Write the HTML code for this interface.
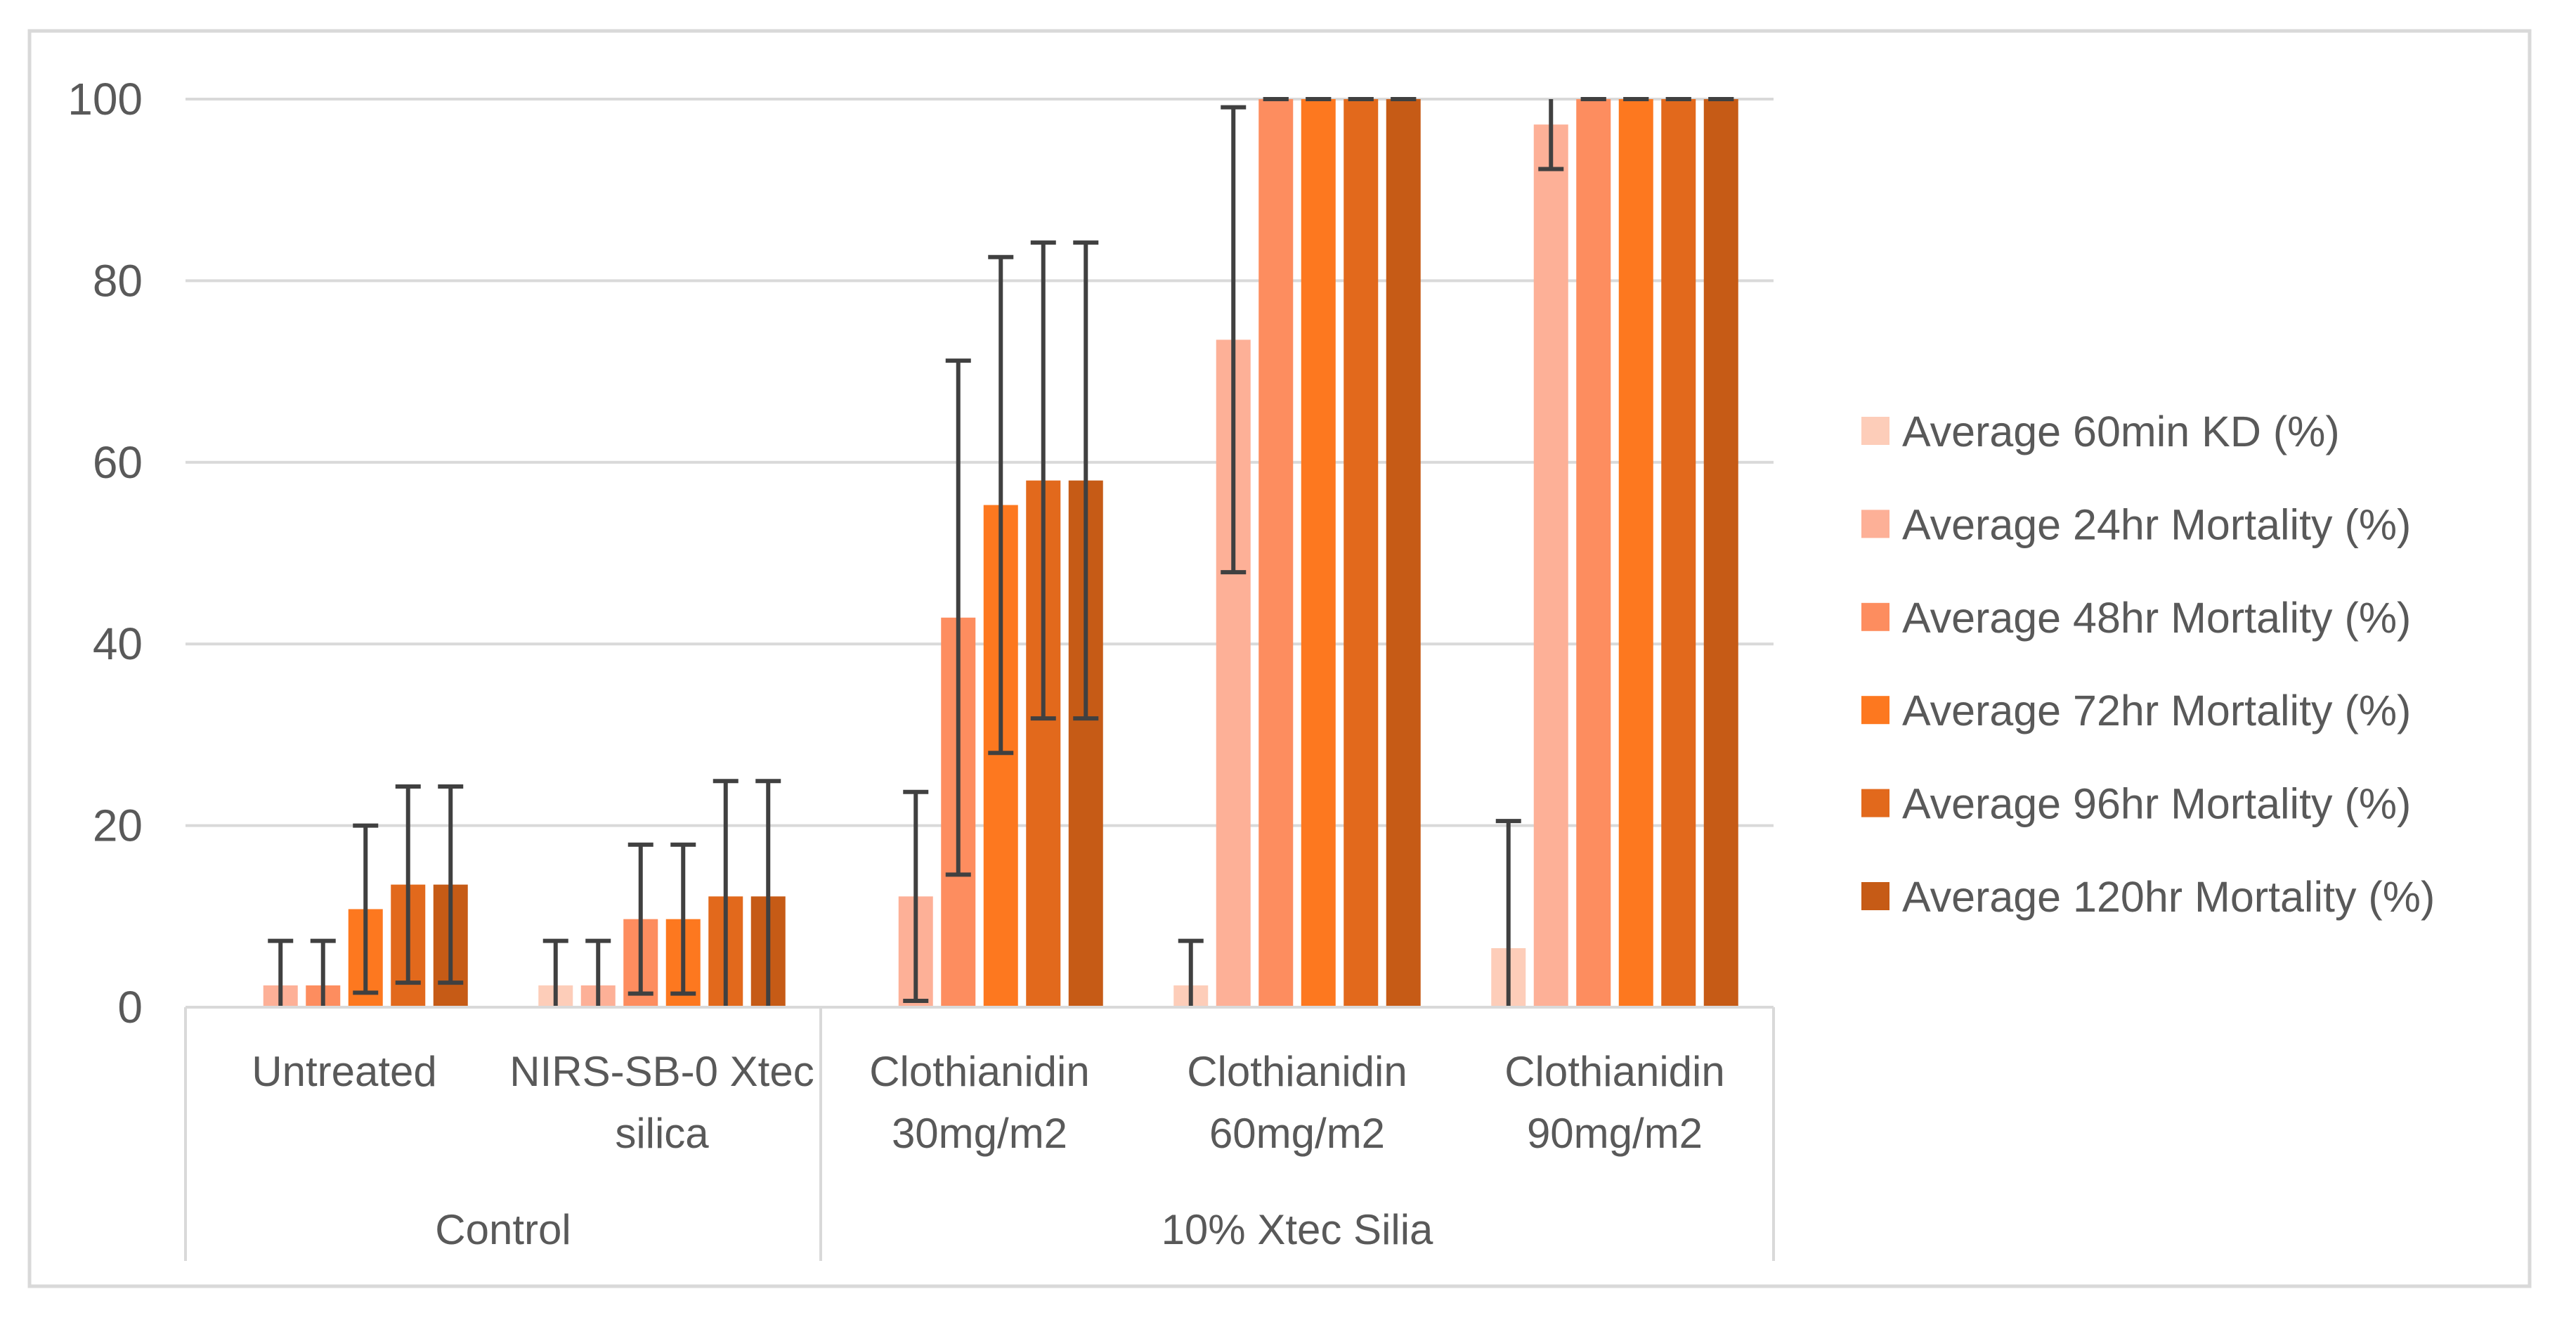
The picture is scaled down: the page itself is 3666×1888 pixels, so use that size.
<!DOCTYPE html>
<html><head><meta charset="utf-8"><style>
html,body{margin:0;padding:0;background:#fff;}
svg{display:block;font-family:"Liberation Sans",sans-serif;}
</style></head><body>
<svg id="chart" width="3666" height="1888" viewBox="0 0 3666 1888" xmlns="http://www.w3.org/2000/svg">
<rect x="42" y="44" width="3558" height="1786" fill="#fff" stroke="#d9d9d9" stroke-width="5"/>
<g id="grid"></g>
<g id="yticks"></g>
<g id="bars"></g>
<g id="errs"></g>
<g id="xaxis"></g>
<g id="legend"></g>
</svg>
<script>
const categories = ["Untreated","NIRS-SB-0 Xtec|silica","Clothianidin|30mg/m2","Clothianidin|60mg/m2","Clothianidin|90mg/m2"];
const groups = ["Control","10% Xtec Silia"];
const groupSpans = [2,3];
const seriesNames = ["Average 60min KD (%)","Average 24hr Mortality (%)","Average 48hr Mortality (%)","Average 72hr Mortality (%)","Average 96hr Mortality (%)","Average 120hr Mortality (%)"];
const seriesColors = ["#FDCDB9","#FDB097","#FD8D5F","#FD781F","#E2691C","#C65B16"];
const kd60 = [0, 2.4, 0, 2.4, 6.5];
const m24 = [2.4, 2.4, 12.2, 73.5, 97.2];
const m48 = [2.4, 9.7, 42.9, 100, 100];
const m72 = [10.8, 9.7, 55.3, 100, 100];
const m96 = [13.5, 12.2, 58, 100, 100];
const m120 = [13.5, 12.2, 58, 100, 100];
const err60 = [0, 4.9, 0, 4.9, 14];
const err24 = [4.9, 4.9, 11.5, 25.6, 4.9];
const err48 = [4.9, 8.2, 28.3, 0, 0];
const err72 = [9.2, 8.2, 27.3, 0, 0];
const err96 = [10.8, 12.7, 26.2, 0, 0];
const err120 = [10.8, 12.7, 26.2, 0, 0];
const yTicks = [0,20,40,60,80,100];

const series = [kd60,m24,m48,m72,m96,m120];
const errs = [err60,err24,err48,err72,err96,err120];
const NS="http://www.w3.org/2000/svg";
const X0=264, X1=2524, Y0=1433, Y1=141, YMAX=100;
const catW=(X1-X0)/categories.length;
const pitch=60.5, bw=49;
const y=v=>Y0-(Math.min(v,YMAX)/YMAX)*(Y0-Y1);
const barX=(c,s)=>X0+c*catW+(catW-(pitch*5+bw))/2+s*pitch;
function mk(tag,attrs,parent,text){const e=document.createElementNS(NS,tag);for(const k in attrs)e.setAttribute(k,attrs[k]);if(text!==undefined)e.textContent=text;parent.appendChild(e);return e;}
const G=id=>document.getElementById(id);

yTicks.forEach(t=>{
  if(t>0){const l=mk('line',{x1:X0,x2:X1,y1:y(t),y2:y(t),stroke:'#d9d9d9','stroke-width':4},G('grid'));
  
  }
  const tx=mk('text',{x:203,y:y(t)+22,'text-anchor':'end','font-size':64,fill:'#595959'},G('yticks'),String(t));
  
  
});

series.forEach((vals,s)=>{
  vals.forEach((v,c)=>{
    if(v<=0)return;
    const r=mk('rect',{x:barX(c,s),y:y(v),width:bw,height:Y0-y(v),fill:seriesColors[s]},G('bars'));
    
    
  });
});

series.forEach((vals,s)=>{
  vals.forEach((v,c)=>{
    const e=errs[s][c];
    if(v<=0)return;
    const cx=barX(c,s)+bw/2;
    const top=v+e, bot=v-e;
    const g=mk('g',{stroke:'#404040','stroke-width':6},G('errs'));
    
    
    mk('line',{x1:cx,x2:cx,y1:y(top),y2:y(Math.max(bot,0))},g);
    if(top<=YMAX) mk('line',{x1:cx-18,x2:cx+18,y1:y(top),y2:y(top)},g);
    if(bot>=0) mk('line',{x1:cx-18,x2:cx+18,y1:y(bot),y2:y(bot)},g);
  });
});

const ax=G('xaxis');
mk('line',{x1:X0,x2:X1,y1:Y0,y2:Y0,stroke:'#d9d9d9','stroke-width':4},ax);
let acc=0;
const bounds=[0];
groupSpans.forEach(n=>{acc+=n;bounds.push(acc);});
bounds.forEach(b=>{mk('line',{x1:X0+b*catW,x2:X0+b*catW,y1:Y0,y2:1794,stroke:'#d9d9d9','stroke-width':4},ax);});
categories.forEach((c,i)=>{
  const lines=c.split('|');
  lines.forEach((ln,j)=>{
    const t=mk('text',{x:X0+(i+0.5)*catW,y:1545+j*88,'text-anchor':'middle','font-size':60,fill:'#595959'},ax,ln);
    
    
  });
});
groups.forEach((g,i)=>{
  const mid=(bounds[i]+bounds[i+1])/2;
  const t=mk('text',{x:X0+mid*catW,y:1770,'text-anchor':'middle','font-size':60,fill:'#595959'},ax,g);
  
  
});

seriesNames.forEach((n,i)=>{
  const cy=613+i*132.4;
  const g=mk('g',{},G('legend'));
  
  
  mk('rect',{x:2649,y:cy-20,width:40,height:40,fill:seriesColors[i]},g);
  mk('text',{x:2707,y:cy+22,'font-size':61,fill:'#595959'},g,n);
});
</script>
</body></html>
